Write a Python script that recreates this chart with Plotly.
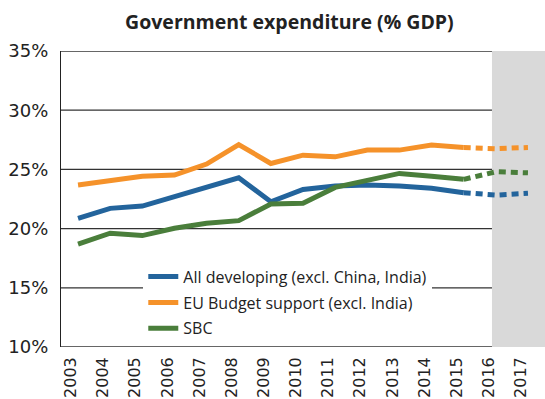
import plotly.graph_objects as go

# Government expenditure as % of GDP, 2003-2017 (2016-2017 projected)
years = list(range(2003, 2018))
all_developing = [20.87, 21.71, 21.90, 22.69, 23.48, 24.29, 22.27, 23.31, 23.60, 23.68,
                  23.60, 23.40, 23.03, 22.83, 22.98]
eu_budget_support = [23.68, 24.04, 24.43, 24.52, 25.45, 27.10, 25.50, 26.20, 26.06, 26.63,
                     26.63, 27.05, 26.85, 26.75, 26.85]
sbc = [18.68, 19.61, 19.41, 20.03, 20.45, 20.67, 22.08, 22.14, 23.48, 24.10,
       24.66, 24.43, 24.16, 24.80, 24.71]

series_names = ["All developing (excl. China, India)",
                "EU Budget support (excl. India)",
                "SBC"]
series_values = [all_developing, eu_budget_support, sbc]
series_colors = ["#23649c", "#f5922a", "#4a7e3b"]

last_actual_year = 2015
y_ticks = [10, 15, 20, 25, 30, 35]

x_range = [2002.47, 2017.53]
projection_start = 2015.88
label_shift = 0.22  # year labels sit slightly left of their points

fig = go.Figure()

n_actual = years.index(last_actual_year) + 1
for name, vals, color in zip(series_names, series_values, series_colors):
    fig.add_trace(go.Scatter(
        x=years[:n_actual], y=vals[:n_actual], mode="lines", name=name,
        legendgroup=name, line=dict(color=color, width=5),
    ))
for name, vals, color in zip(series_names, series_values, series_colors):
    fig.add_trace(go.Scatter(
        x=years[n_actual - 1:], y=vals[n_actual - 1:], mode="lines", name=name,
        legendgroup=name, showlegend=False,
        line=dict(color=color, width=5, dash="7px,5px"),
    ))

shapes = [
    # projection period background
    dict(type="rect", xref="x", yref="y", x0=projection_start, x1=x_range[1],
         y0=y_ticks[0], y1=y_ticks[-1], fillcolor="#d9d9d9", line_width=0, layer="below"),
]
for t in y_ticks[1:]:
    shapes.append(dict(type="line", xref="paper", yref="y", x0=0, x1=1, y0=t, y1=t,
                       line=dict(color="#333333", width=1.3), layer="below"))
# bottom axis line, stopping at the projection band
shapes.append(dict(type="line", xref="x", yref="y", x0=x_range[0], x1=projection_start,
                   y0=y_ticks[0], y1=y_ticks[0],
                   line=dict(color="#333333", width=1.3), layer="below"))

fig.update_layout(
    width=545, height=399,
    margin=dict(l=61, r=0, t=51, b=52),
    paper_bgcolor="white", plot_bgcolor="white",
    shapes=shapes,
    title=dict(text="<b>Government expenditure (% GDP)</b>", x=0.531, xanchor="center",
               y=0.945, yanchor="middle",
               font=dict(family="Open Sans", size=19.5, color="#222222")),
    font=dict(family="Open Sans", color="#222222"),
    showlegend=True,
    legend=dict(x=0.17, y=0.295, xanchor="left", yanchor="top",
                bgcolor="white", borderwidth=0,
                font=dict(family="Open Sans", size=16, color="#222222"),
                traceorder="grouped", tracegroupgap=2,
                itemwidth=30),
    xaxis=dict(range=x_range, tickmode="array",
               tickvals=[y - label_shift for y in years],
               ticktext=[str(y) for y in years], tickangle=-90,
               showgrid=False, zeroline=False, showline=False, ticks="",
               ticklabelstandoff=6,
               tickfont=dict(family="DejaVu Sans", size=16, color="#222222")),
    yaxis=dict(range=[y_ticks[0], y_ticks[-1]], tickmode="array", tickvals=y_ticks,
               ticktext=[f"{t}%" for t in y_ticks], showgrid=False, zeroline=False,
               showline=True, linecolor="#222222", linewidth=1.3, ticks="",
               ticklabelstandoff=8,
               tickfont=dict(family="DejaVu Sans", size=18, color="#222222")),
)

fig.write_html("out.html")
